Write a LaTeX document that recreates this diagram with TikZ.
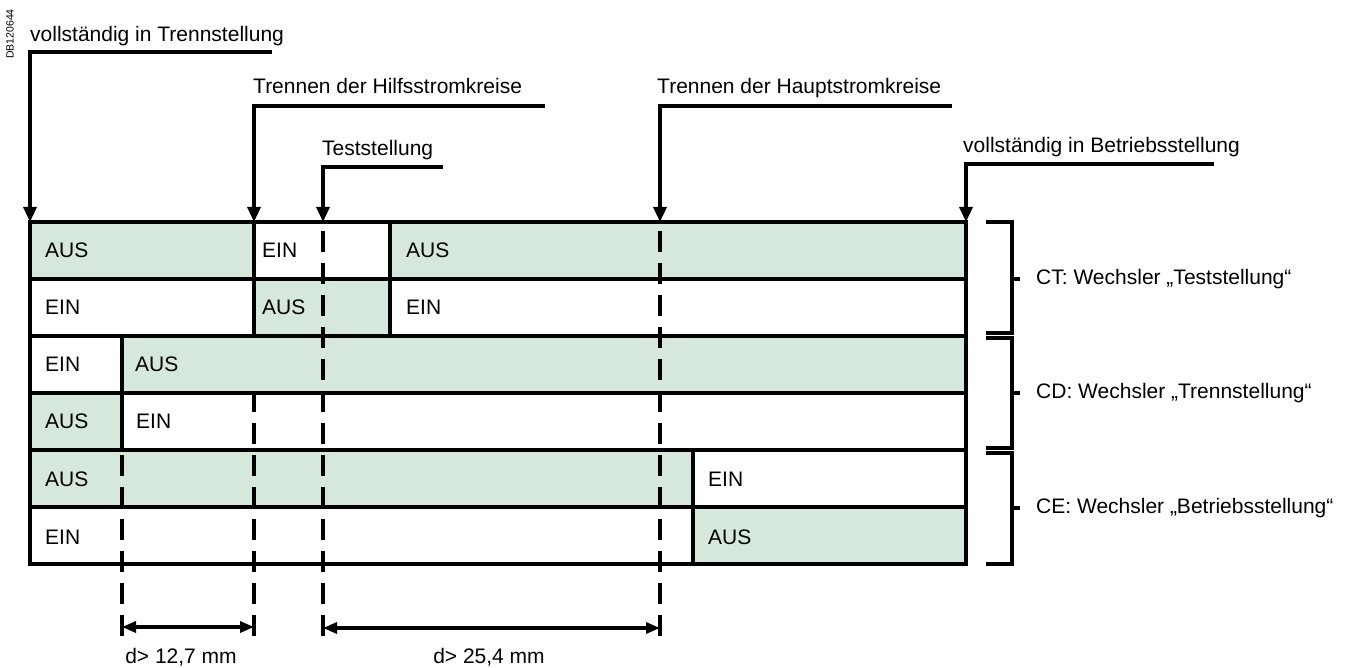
\documentclass[tikz,border=0pt]{standalone}
\usepackage{fontspec}
\setmainfont{Liberation Sans}
\usepackage{tikz}
\usetikzlibrary{arrows.meta,positioning}
\definecolor{cellgreen}{RGB}{214,232,219}

\begin{document}
\begin{tikzpicture}[x=1pt, y=-1pt,
    lbl/.style={font=\fontsize{21}{25}\selectfont, inner sep=0pt, anchor=west},
    head/.style={font=\fontsize{21}{25}\selectfont, inner sep=0pt, anchor=base west},
    frame/.style={line width=3.3pt},
    dashline/.style={line width=3.3pt, dash pattern=on 21pt off 11pt},
    callout/.style={line width=3.3pt, -{Triangle[length=15pt,width=13pt]}},
    dimline/.style={line width=3.3pt, {Triangle[length=14pt,width=11pt]}-{Triangle[length=14pt,width=11pt]}}
]
    \useasboundingbox (0,0) rectangle (1352,668);

    \node[rotate=90, font=\fontsize{10.5}{11}\selectfont, inner sep=0pt] (docid) at (10,34) {DB120644};

    % green cells
    \foreach \xa/\ya/\xb/\yb in {30/222/254/279, 390/222/966/279, 254/279/390/336,
        122/336/966/393, 30/393/122/450, 30/450/693/507, 693/507/966/564}
        \fill[cellgreen] (\xa,\ya) rectangle (\xb,\yb);

    % switching positions
    \coordinate (trennTip) at (30,222);
    \coordinate (hilfsTip) at (254,222);
    \coordinate (testTip) at (323,222);
    \coordinate (hauptTip) at (660,222);
    \coordinate (betrTip) at (966,222);
    \coordinate (ceTop) at (122,450);
    \coordinate (cdTop) at (254,393);
    \coordinate (dimA) at (122,636);
    \coordinate (dimB) at (254,636);
    \coordinate (dimC) at (323,636);
    \coordinate (dimD) at (660,636);

    \draw[dashline] (dimA) -- (ceTop);
    \draw[dashline] (dimB) -- (cdTop);
    \draw[dashline] (dimC) -- (testTip);
    \draw[dashline] (dimD) -- (hauptTip);

    \draw[frame] (30,222) rectangle (966,564);
    \foreach \y in {279,336,393,450,507}
        \draw[frame] (30,\y) -- (966,\y);
    \draw[frame] (254,222) -- (254,336);
    \draw[frame] (390,222) -- (390,336);
    \draw[frame] (122,336) -- (122,450);
    \draw[frame] (693,450) -- (693,564);

    \node[lbl] (ct1a) at (45,250.5) {AUS};
    \node[lbl] (ct1b) at (262,250.5) {EIN};
    \node[lbl] (ct1c) at (406,250.5) {AUS};
    \node[lbl] (ct2a) at (45,307.5) {EIN};
    \node[lbl] (ct2b) at (262,307.5) {AUS};
    \node[lbl] (ct2c) at (406,307.5) {EIN};
    \node[lbl] (cd1a) at (45,364.5) {EIN};
    \node[lbl] (cd1b) at (135,364.5) {AUS};
    \node[lbl] (cd2a) at (45,421.5) {AUS};
    \node[lbl] (cd2b) at (136,421.5) {EIN};
    \node[lbl] (ce1a) at (45,479) {AUS};
    \node[lbl] (ce1b) at (708,479) {EIN};
    \node[lbl] (ce2a) at (45,537) {EIN};
    \node[lbl] (ce2b) at (708,537) {AUS};

    \node[head] (trenn) at (30,42) {vollständig in Trennstellung};
    \node[head] (hilfs) at (253,94) {Trennen der Hilfsstromkreise};
    \node[head] (test) at (322,156) {Teststellung};
    \node[head] (haupt) at (657,94) {Trennen der Hauptstromkreise};
    \node[head] (betr) at (963,153) {vollständig in Betriebsstellung};

    \coordinate (trennEnd) at (272,52);
    \coordinate (hilfsEnd) at (545,106);
    \coordinate (testEnd) at (443,167);
    \coordinate (hauptEnd) at (952,106);
    \coordinate (betrEnd) at (1214,164);

    \draw[callout] (trennEnd) -| (trennTip);
    \draw[callout] (hilfsEnd) -| (hilfsTip);
    \draw[callout] (testEnd) -| (testTip);
    \draw[callout] (hauptEnd) -| (hauptTip);
    \draw[callout] (betrEnd) -| (betrTip);

    \draw[dimline] (dimA |- 0,627) -- (dimB |- 0,627);
    \draw[dimline] (dimC |- 0,628) -- (dimD |- 0,628);
    \node[head, anchor=base] (dimShort) at (181,663) {d> 12,7 mm};
    \node[head, anchor=base] (dimLong) at (489,663) {d> 25,4 mm};

    % contact groups
    \draw[frame] (986,222) -| (1012,333) -- (986,333);
    \draw[frame] (1012,279) -- (1020,279);
    \draw[frame] (986,338) -| (1012,448) -- (986,448);
    \draw[frame] (1012,393) -- (1020,393);
    \draw[frame] (986,453) -| (1012,564) -- (986,564);
    \draw[frame] (1012,508) -- (1020,508);

    \node[lbl] (ct) at (1036,279) {CT: Wechsler „Teststellung“};
    \node[lbl] (cd) at (1036,393) {CD: Wechsler „Trennstellung“};
    \node[lbl] (ce) at (1036,508) {CE: Wechsler „Betriebsstellung“};
\end{tikzpicture}
\end{document}
